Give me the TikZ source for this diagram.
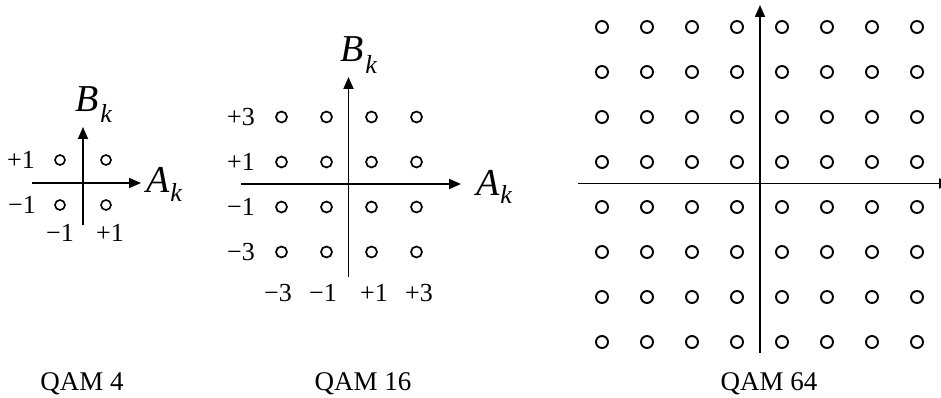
\documentclass[tikz,border=0pt]{standalone}
\usepackage{fontspec}
\setmainfont{Liberation Serif}
\usetikzlibrary{arrows.meta}
\begin{document}
\begin{tikzpicture}[x=1pt,y=-1pt,
  axis/.style={line width=1.8pt,-{Triangle[length=12pt,width=10pt]}},
  pta/.style={circle,draw,line width=1.6pt,minimum size=10pt,inner sep=0pt},
  ptb/.style={circle,draw,line width=1.7pt,minimum size=11pt,inner sep=0pt},
  ptc/.style={circle,draw,line width=1.9pt,minimum size=12pt,inner sep=0pt},
  num/.style={inner sep=0pt,font=\fontsize{26}{26}\selectfont},
  qamtitle/.style={inner sep=0pt,anchor=base,font=\fontsize{27}{27}\selectfont},
  var/.style={inner sep=0pt,anchor=base west,font=\fontsize{38}{38}\selectfont\itshape}]
\useasboundingbox (0,0) rectangle (941,398);

% ---------- QAM 4 ----------
\coordinate (h4s) at (32,183);
\coordinate (h4e) at (141,183);
\coordinate (v4s) at (83,225);
\coordinate (v4e) at (83,127);
\draw[axis] (h4s) -- (h4e);
\draw[axis] (v4s) -- (v4e);
\foreach \i/\x in {1/60,2/106}
  \foreach \j/\y in {1/160,2/205}
    \node[pta] (c4-\i-\j) at (\x,\y) {};
\node[num] (l4a) at (21,160) {+1};
\node[num] (l4b) at (22,205) {−1};
\node[num] (l4c) at (60,233) {−1};
\node[num] (l4d) at (110,233) {+1};
\node[var] (b4) at (75,112) {B\kern2pt\raisebox{-11pt}{\fontsize{26}{26}\selectfont k}};
\node[var] (a4) at (146,193) {A\kern1pt\raisebox{-9pt}{\fontsize{26}{26}\selectfont k}};
\node[qamtitle] (t4) at (82,390) {QAM 4};

% ---------- QAM 16 ----------
\coordinate (h16s) at (241,184);
\coordinate (h16e) at (461,184);
\coordinate (v16s) at (348.5,277);
\coordinate (v16e) at (348.5,77);
\draw[axis] (h16s) -- (h16e);
\draw[axis] (v16s) -- (v16e);
\foreach \i/\x in {1/281.5,2/326.5,3/371.5,4/416.5}
  \foreach \j/\y in {1/117,2/162,3/207,4/252}
    \node[ptb] (c16-\i-\j) at (\x,\y) {};
\node[num] (l16a) at (241,117) {+3};
\node[num] (l16b) at (241,162) {+1};
\node[num] (l16c) at (241,207) {−1};
\node[num] (l16d) at (241,252) {−3};
\node[num] (l16e) at (278,293) {−3};
\node[num] (l16f) at (323,293) {−1};
\node[num] (l16g) at (374,293) {+1};
\node[num] (l16h) at (419,293) {+3};
\node[var] (b16) at (340,62) {B\kern2pt\raisebox{-12pt}{\fontsize{26}{26}\selectfont k}};
\node[var] (a16) at (476,195) {A\kern1pt\raisebox{-8pt}{\fontsize{26}{26}\selectfont k}};
\node[qamtitle] (t16) at (363,390) {QAM 16};

% ---------- QAM 64 ----------
\coordinate (h64s) at (578,183.5);
\coordinate (h64e) at (951,183.5);
\coordinate (v64s) at (760,353);
\coordinate (v64e) at (760,5);
\draw[axis] (h64s) -- (h64e);
\draw[axis] (v64s) -- (v64e);
\foreach \i in {0,...,7}
  \foreach \j in {0,...,7}
    \node[ptc] (c64-\i-\j) at ({602+45*\i},{27+45*\j}) {};
\node[qamtitle] (t64) at (769,390) {QAM 64};
\end{tikzpicture}
\end{document}
